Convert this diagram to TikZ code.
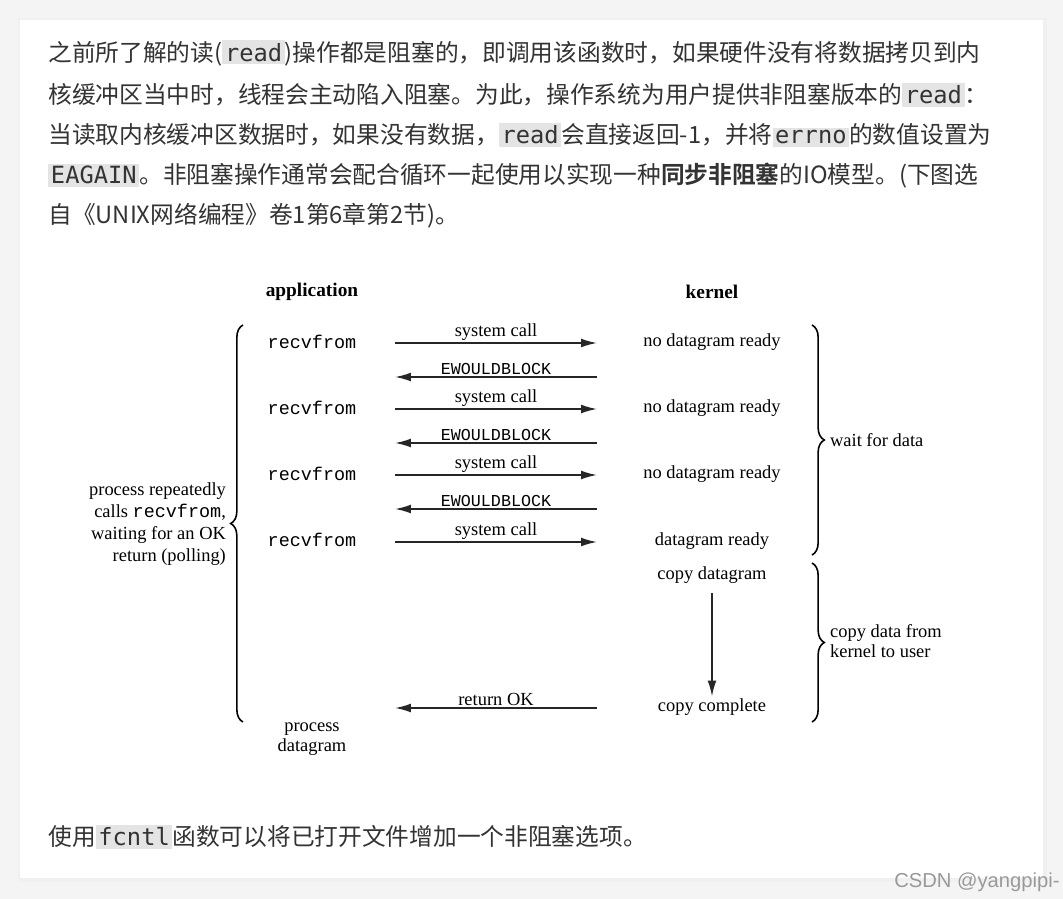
\documentclass[tikz,border=0pt]{standalone}
\usepackage{fontspec}
\setmainfont{Liberation Serif}
\setmonofont{Liberation Mono}
\newfontfamily\cjk[BoldFont={Noto Sans CJK SC Bold}]{Noto Sans CJK SC}
\newfontfamily\codefont{DejaVu Sans Mono}
\newfontfamily\wmfont{Liberation Sans}
\usetikzlibrary{arrows.meta,decorations.pathreplacing}
\definecolor{codebg}{HTML}{E4E4E4}
\definecolor{pagebg}{HTML}{F4F4F4}
\definecolor{ink}{HTML}{333333}
\newcommand{\code}[1]{{\setlength{\fboxsep}{1.5pt}\colorbox{codebg}{\codefont #1}}}
\tikzset{
  para/.style={anchor=west,inner sep=0pt,font=\cjk\fontsize{13.5}{15}\selectfont,text=ink},
  lbl/.style={inner sep=1pt,font=\fontsize{10.5}{11.5}\selectfont},
  mono/.style={font=\ttfamily\fontsize{10.5}{11.5}\selectfont},
  call/.style={-{Latex[length=9pt,width=5pt]},line width=1pt,draw=black!85},
  brc/.style={decorate,decoration={brace,amplitude=7pt},line width=0.9pt}
}
\begin{document}
\begin{tikzpicture}[x=0.02cm,y=-0.02cm]
\fill [pagebg] (0,0) rectangle (1063,899);
\fill [black!6] (18,18) rectangle (1047,882);
\fill [white] (20,20) rectangle (1043,878);
% text above the figure
\node [para] (p1) at (48,53) {之前所了解的读(\code{read})操作都是阻塞的，即调用该函数时，如果硬件没有将数据拷贝到内};
\node [para] (p2) at (48,95) {核缓冲区当中时，线程会主动陷入阻塞。为此，操作系统为用户提供非阻塞版本的\code{read}：};
\node [para] (p3) at (48,135) {当读取内核缓冲区数据时，如果没有数据，\code{read}会直接返回-1，并将\code{errno}的数值设置为};
\node [para] (p4) at (48,176) {\code{EAGAIN}。非阻塞操作通常会配合循环一起使用以实现一种\textbf{同步非阻塞}的IO模型。(下图选};
\node [para] (p5) at (48,216) {自《UNIX网络编程》卷1第6章第2节)。};
% figure
\node [lbl,font=\bfseries\fontsize{11}{12}\selectfont] (app) at (312,292) {application};
\node [lbl,font=\bfseries\fontsize{11}{12}\selectfont] (kern) at (712,292) {kernel};
\node [lbl,mono] (r1) at (312,342) {recvfrom};
\node [lbl,mono] (r2) at (312,408) {recvfrom};
\node [lbl,mono] (r3) at (312,474) {recvfrom};
\node [lbl,mono] (r4) at (312,540) {recvfrom};
\node [lbl] (k1) at (712,342) {no datagram ready};
\node [lbl] (k2) at (712,408) {no datagram ready};
\node [lbl] (k3) at (712,474) {no datagram ready};
\node [lbl] (k4) at (712,541) {datagram ready};
\node [lbl] (cd) at (712,575) {copy datagram};
\node [lbl] (cc) at (712,707) {copy complete};
\node [lbl,align=center] (pd) at (312,739) {process\\datagram};
\node [lbl,align=right,anchor=east,font=\fontsize{10.5}{12.5}\selectfont] (poll) at (228,524)
  {process repeatedly\\calls {\ttfamily recvfrom},\\waiting for an OK\\return (polling)};
\coordinate (a1) at (395,343); \coordinate (b1) at (597,343);
\coordinate (a2) at (395,377); \coordinate (b2) at (597,377);
\coordinate (a3) at (395,409); \coordinate (b3) at (597,409);
\coordinate (a4) at (395,443); \coordinate (b4) at (597,443);
\coordinate (a5) at (395,475); \coordinate (b5) at (597,475);
\coordinate (a6) at (395,509); \coordinate (b6) at (597,509);
\coordinate (a7) at (395,542); \coordinate (b7) at (597,542);
\coordinate (a8) at (395,708); \coordinate (b8) at (597,708);
\draw [call] (a1) -- node [lbl,above] {system call} (b1);
\draw [call] (b2) -- node [lbl,above,font=\ttfamily\fontsize{9.5}{10}\selectfont] {EWOULDBLOCK} (a2);
\draw [call] (a3) -- node [lbl,above] {system call} (b3);
\draw [call] (b4) -- node [lbl,above,font=\ttfamily\fontsize{9.5}{10}\selectfont] {EWOULDBLOCK} (a4);
\draw [call] (a5) -- node [lbl,above] {system call} (b5);
\draw [call] (b6) -- node [lbl,above,font=\ttfamily\fontsize{9.5}{10}\selectfont] {EWOULDBLOCK} (a6);
\draw [call] (a7) -- node [lbl,above] {system call} (b7);
\draw [call] (b8) -- node [lbl,above] {return OK} (a8);
\draw [call] (cd) ++(0,18) -- (cc.north);
% braces
\coordinate (lb1) at (243,722); \coordinate (lb2) at (243,325);
\coordinate (rb1) at (812,325); \coordinate (rb2) at (812,555);
\coordinate (rb3) at (812,563); \coordinate (rb4) at (812,722);
\draw [brc] (lb1) -- (lb2);
\draw [brc] (rb1) -- (rb2);
\draw [brc] (rb3) -- (rb4);
\node [lbl,anchor=west] (wait) at (828,440) {wait for data};
\node [lbl,anchor=west,align=left] (copy) at (828,641) {copy data from\\kernel to user};
% text below
\node [para] (p6) at (48,837) {使用\code{fcntl}函数可以将已打开文件增加一个非阻塞选项。};
\node [anchor=east,inner sep=0pt,font=\wmfont\fontsize{11.5}{12}\selectfont,text=black!40] (wm) at (1060,882) {CSDN @yangpipi-};
\end{tikzpicture}
\end{document}
